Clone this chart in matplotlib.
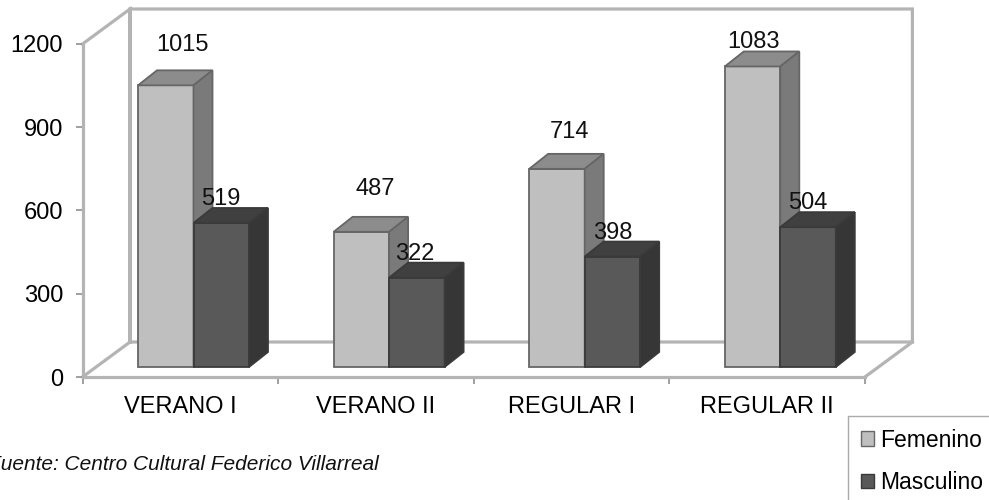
import numpy as np
from matplotlib import pyplot as plt
from matplotlib.patches import Patch, Polygon

categories = ["VERANO I", "VERANO II", "REGULAR I", "REGULAR II"]
femenino = [1015, 487, 714, 1083]
masculino = [519, 322, 398, 504]
y_ticks = [0, 300, 600, 900, 1200]

# offset of every value label from the bar's top centre, in pixels
fem_label_off = [(17, 40), (14, 43), (13, 37), (1, 24)]
mas_label_off = [(0, 24), (-2, 24), (0, 24), (0, 24)]

plt.rcParams["font.family"] = ["Liberation Sans", "DejaVu Sans"]

W, H = 989, 500
X0, Y0 = 82.5, 377    # pixel of the axis origin
CAT_PX = 195.6        # pixels per category
VAL_PX = 0.2775       # pixels per unit of value

WALL_DX = 47.5 / CAT_PX
WALL_DY = 35 / VAL_PX
BAR_DX = 19 / CAT_PX
BAR_DY = 15 / VAL_PX
BAR_BASE = 10 / VAL_PX
BAR_W = 55.5 / CAT_PX
BAR_START = 55.5 / CAT_PX

WALL = "#b4b4b4"
EDGE_F = "#666666"
EDGE_M = "#3a3a3a"

fig = plt.figure(figsize=(W / 100, H / 100), dpi=100)
ax = fig.add_axes([0, 0, 1, 1])
ax.set_xlim(-X0 / CAT_PX, (W - X0) / CAT_PX)
ax.set_ylim(-(H - Y0) / VAL_PX, Y0 / VAL_PX)
ax.patch.set_visible(False)

n = len(categories)
top = y_ticks[-1]

# back wall and floor
wall_x = [0, WALL_DX, WALL_DX, n + WALL_DX, n + WALL_DX, WALL_DX, WALL_DX]
wall_y = [top, top + WALL_DY, WALL_DY, WALL_DY, top + WALL_DY, top + WALL_DY, WALL_DY]
ax.plot(wall_x, wall_y, color=WALL, lw=2.3, zorder=1, solid_joinstyle="miter")
ax.plot([0, WALL_DX], [0, WALL_DY], color=WALL, lw=2.3, zorder=1)
ax.plot([n, n + WALL_DX], [0, WALL_DY], color=WALL, lw=2.3, zorder=1)


def draw_bar(x, v, front, top_col, side, edge):
    ax.bar(x, v, width=BAR_W, bottom=BAR_BASE, align="edge", color=front,
           edgecolor=edge, linewidth=1.3, zorder=3)
    y1 = BAR_BASE + v
    x1 = x + BAR_W
    ax.add_patch(Polygon([(x, y1), (x + BAR_DX, y1 + BAR_DY), (x1 + BAR_DX, y1 + BAR_DY), (x1, y1)],
                         facecolor=top_col, edgecolor=edge, linewidth=1.3, zorder=3))
    ax.add_patch(Polygon([(x1, BAR_BASE), (x1 + BAR_DX, BAR_BASE + BAR_DY), (x1 + BAR_DX, y1 + BAR_DY), (x1, y1)],
                         facecolor=side, edgecolor=edge, linewidth=1.3, zorder=3))


for i in range(n):
    x_f = i + BAR_START
    x_m = x_f + BAR_W
    draw_bar(x_f, femenino[i], "#bfbfbf", "#8c8c8c", "#7a7a7a", EDGE_F)
    draw_bar(x_m, masculino[i], "#595959", "#404040", "#363636", EDGE_M)

    ax.annotate(str(femenino[i]), (x_f + BAR_W / 2, BAR_BASE + femenino[i]),
                xytext=fem_label_off[i], textcoords="offset pixels",
                ha="center", va="center", fontsize=17, color="#111111", zorder=5)
    ax.annotate(str(masculino[i]), (x_m + BAR_W / 2, BAR_BASE + masculino[i]),
                xytext=mas_label_off[i], textcoords="offset pixels",
                ha="center", va="center", fontsize=17, color="#111111", zorder=5)

# front axes
for s in ["top", "right"]:
    ax.spines[s].set_visible(False)
ax.spines["left"].set_position(("data", 0))
ax.spines["bottom"].set_position(("data", 0))
ax.spines["left"].set_bounds(0, top)
ax.spines["bottom"].set_bounds(0, n)
ax.spines["left"].set_color(WALL)
ax.spines["bottom"].set_color(WALL)
ax.spines["left"].set_linewidth(2.3)
ax.spines["bottom"].set_linewidth(2.3)
ax.spines["left"].set_zorder(2)
ax.spines["bottom"].set_zorder(2)

ax.set_yticks(y_ticks)
ax.tick_params(axis="y", length=5, width=1.3, color="#999999", labelsize=17, pad=9)
ax.set_xticks(np.arange(n + 1))
ax.set_xticklabels([])
ax.set_xticks(np.arange(n) + 0.5, labels=categories, minor=True)
ax.tick_params(axis="x", which="major", length=5, width=1.3, color="#999999")
ax.tick_params(axis="x", which="minor", length=0, labelsize=17, pad=13.5)

fig.text(-12 / W, 1 - 464 / H, "Fuente: Centro Cultural Federico Villarreal", style="italic",
         fontsize=15, color="#111111", va="center", ha="left")

handles = [Patch(facecolor="#bfbfbf", edgecolor=EDGE_F, label="Femenino"),
           Patch(facecolor="#595959", edgecolor=EDGE_M, label="Masculino")]
fig.legend(handles=handles, loc="upper left", bbox_to_anchor=(848 / W, 1 - 416 / H), borderaxespad=0,
           fancybox=False, framealpha=1, edgecolor="#aaaaaa", fontsize=16.5, handlelength=0.6,
           handleheight=0.6, handletextpad=0.25, labelspacing=0.85, borderpad=0.55)

plt.savefig("out.png", dpi=100)
